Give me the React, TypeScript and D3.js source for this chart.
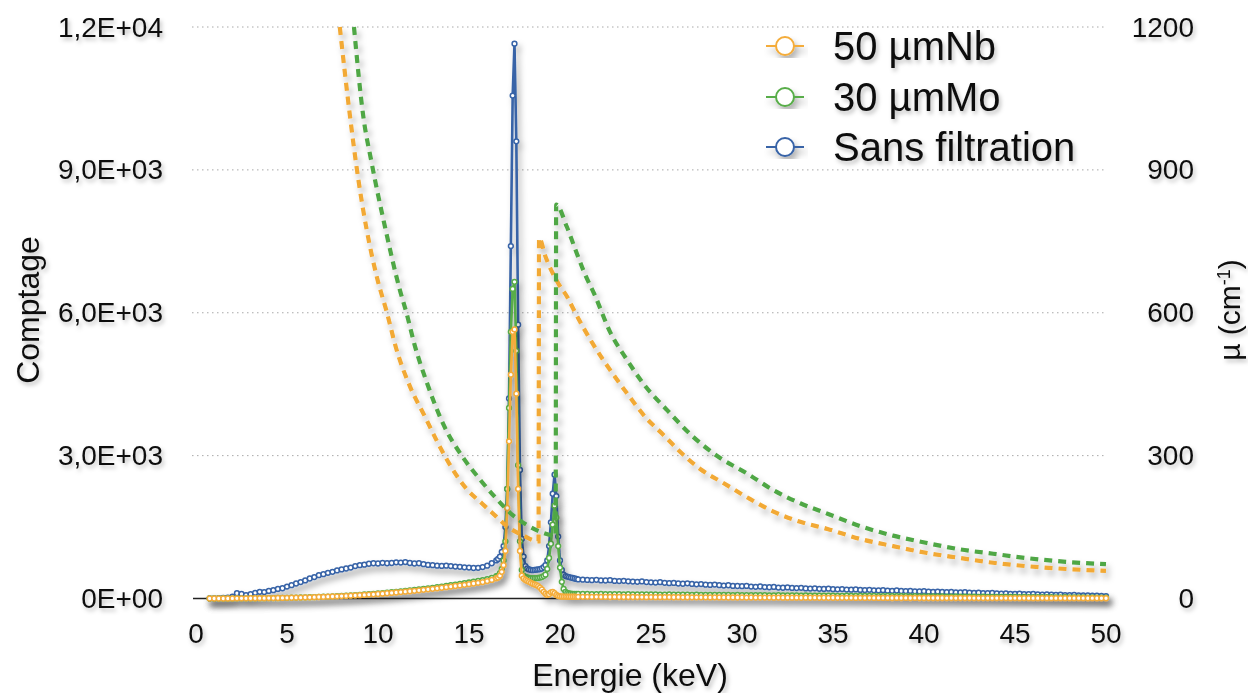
import React from "react";
import * as d3 from "d3";

// ---------- data ----------
const X_TICKS = [0, 5, 10, 15, 20, 25, 30, 35, 40, 45, 50];
const LEFT_TICKS = [0, 3000, 6000, 9000, 12000];
const LEFT_TICK_LABELS = ["0E+00", "3,0E+03", "6,0E+03", "9,0E+03", "1,2E+04"];
const RIGHT_TICKS = [0, 300, 600, 900, 1200];

// energy bins (keV): low region 0.75..16.5 step .25, peak region 16.6..20.9 step .1, tail 21..50 step .25
const LOW_START = 0.75, LOW_STEP = 0.25;
const PEAK_START = 16.6, PEAK_STEP = 0.1;
const TAIL_START = 21.0, TAIL_STEP = 0.25;

const BLUE_LOW = [0, 0, 5, 10, 20, 40, 110, 95, 70, 90,
  120, 140, 135, 160, 175, 200, 215, 250, 280, 315,
  345, 380, 420, 450, 490, 510, 540, 560, 590, 610,
  630, 650, 680, 700, 710, 730, 740, 735, 750, 740,
  745, 760, 755, 765, 745, 735, 740, 720, 705, 700,
  690, 685, 690, 680, 670, 665, 655, 650, 640, 645,
  660, 690, 740, 800];
const BLUE_PEAK = [830, 880, 980, 1100, 1500, 2300, 4200, 7400, 10560, 11650,
  9600, 5750, 2700, 1250, 880, 680, 630, 610, 600, 595,
  600, 605, 610, 615, 630, 660, 700, 800, 1100, 1600,
  2200, 2600, 2150, 1300, 800, 600, 500, 470, 460, 450,
  440, 430, 420, 410];
const BLUE_TAIL = [400, 395, 390, 385, 392, 380, 378, 384, 370, 365,
  372, 360, 355, 350, 358, 345, 340, 335, 342, 330,
  322, 328, 315, 310, 318, 305, 298, 302, 290, 285,
  292, 280, 272, 278, 265, 262, 258, 265, 250, 246,
  252, 240, 236, 242, 230, 226, 232, 222, 218, 224,
  212, 208, 214, 204, 200, 206, 196, 192, 198, 188,
  185, 190, 180, 177, 182, 172, 170, 175, 165, 162,
  168, 158, 155, 160, 150, 148, 153, 143, 140, 146,
  136, 133, 138, 128, 126, 131, 121, 118, 123, 114,
  111, 116, 106, 104, 108, 99, 97, 101, 92, 90,
  94, 86, 83, 87, 79, 77, 80, 72, 70, 73,
  66, 64, 67, 60, 58, 55, 50];

const GREEN_LOW = [0, 0, 0, 0, 0, 2, 3, 3, 4, 5,
  5, 6, 7, 8, 9, 11, 13, 15, 17, 19,
  22, 24, 27, 30, 34, 37, 41, 46, 50, 55,
  61, 66, 72, 78, 84, 91, 98, 106, 114, 122,
  131, 140, 149, 159, 169, 180, 191, 202, 213, 225,
  238, 251, 264, 278, 292, 306, 321, 336, 352, 368,
  385, 408, 435, 470];
const GREEN_PEAK = [480, 530, 620, 800, 1200, 2300, 4000, 5600, 6500, 6650,
  5200, 2800, 1200, 600, 480, 455, 445, 435, 428, 425,
  425, 428, 432, 440, 450, 470, 500, 620, 850, 1150,
  1550, 1950, 1700, 1100, 650, 350, 200, 140, 115, 105,
  100, 98, 97, 96];
const GREEN_TAIL = [95, 94, 96, 93, 92, 94, 91, 90, 92, 89,
  88, 90, 87, 86, 88, 85, 84, 86, 83, 82,
  84, 81, 80, 82, 79, 78, 80, 77, 76, 78,
  75, 74, 76, 73, 72, 74, 71, 70, 72, 69,
  68, 70, 67, 66, 68, 65, 64, 66, 63, 62,
  64, 61, 60, 62, 59, 58, 60, 57, 56, 58,
  55, 54, 56, 53, 52, 54, 51, 50, 52, 49,
  48, 50, 47, 46, 48, 45, 44, 46, 43, 42,
  44, 41, 40, 42, 39, 38, 40, 37, 36, 38,
  35, 34, 36, 33, 32, 34, 31, 30, 32, 29,
  28, 30, 27, 26, 28, 25, 24, 26, 23, 22,
  24, 21, 20, 22, 19, 18, 17];

const ORANGE_LOW = [0, 0, 0, 0, 0, 2, 3, 3, 4, 5,
  5, 6, 7, 8, 9, 10, 12, 14, 16, 18,
  20, 22, 25, 28, 31, 34, 38, 42, 46, 50,
  55, 60, 65, 70, 76, 82, 88, 95, 102, 110,
  118, 126, 134, 143, 152, 162, 172, 182, 192, 203,
  214, 226, 238, 250, 262, 275, 288, 300, 315, 330,
  345, 365, 390, 425];
const ORANGE_PEAK = [440, 480, 560, 700, 1000, 1900, 3300, 4700, 5600, 5650,
  4300, 2300, 1000, 480, 420, 390, 370, 350, 330, 310,
  295, 280, 260, 230, 190, 140, 100, 75, 90, 130,
  140, 110, 75, 55, 45, 42, 40, 40, 39, 38,
  38, 37, 37, 36];
const ORANGE_TAIL = [36, 35, 36, 34, 35, 33, 34, 32, 33, 31,
  32, 30, 31, 29, 30, 28, 29, 27, 28, 27,
  28, 26, 27, 25, 26, 24, 25, 24, 25, 23,
  24, 22, 23, 21, 22, 21, 22, 20, 21, 19,
  20, 19, 20, 18, 19, 17, 18, 17, 18, 16,
  17, 16, 17, 15, 16, 15, 16, 14, 15, 14,
  15, 13, 14, 13, 14, 12, 13, 12, 13, 11,
  12, 11, 12, 11, 12, 10, 11, 10, 11, 10,
  11, 9, 10, 9, 10, 9, 10, 8, 9, 8,
  9, 8, 9, 8, 8, 7, 8, 7, 8, 7,
  7, 7, 8, 6, 7, 6, 7, 6, 7, 6,
  6, 6, 5, 6, 5, 5, 5];

// attenuation coefficient mu (cm-1), right axis
const MU_NB_E = [7.9, 8.46, 8.92, 9.38, 9.93, 10.5, 11.0, 11.76, 12.58, 13.3, 14.04, 14.87, 15.7, 16.5, 17.07, 17.99, 18.82,
  18.85, 19.2, 19.9, 20.4, 20.8, 21.8, 22.75, 23.66, 24.76, 25.7, 26.6, 27.7, 29.0, 30.3, 31.7, 33.2, 34.7, 36.5, 38.3, 40.1, 42.0, 43.8, 45.6, 47.8, 50.0];
const MU_NB = [1200, 1013, 880, 774, 676, 599, 525, 445, 382, 326, 275, 230, 200, 172, 152, 132, 120,
  757, 718, 662, 633, 603, 535, 480, 432, 378, 343, 308, 272, 242, 212, 183, 161, 146, 125, 110, 96, 85, 75, 68, 62, 58];
const MU_MO_E = [8.68, 9.19, 9.65, 10.38, 11.2, 11.57, 12.03, 12.67, 13.6, 14.6, 15.6, 16.5, 17.4, 18.15, 18.8, 19.76,
  19.79, 20.37, 20.92, 21.35, 21.9, 22.75, 23.7, 24.6, 25.9, 27.3, 28.8, 30.3, 31.7, 33.2, 34.7, 36.5, 38.3, 40.1, 42.0, 43.8, 45.6, 47.8, 50.0];
const MU_MO = [1200, 1013, 915, 781, 648, 599, 530, 455, 365, 300, 250, 210, 175, 155, 142, 132,
  827, 781, 725, 683, 638, 560, 500, 450, 395, 340, 295, 262, 228, 200, 178, 152, 132, 117, 103, 94, 85, 77, 72];

const SERIES_NAMES = ["50 µmNb", "30 µmMo", "Sans filtration"];
const COLORS = { nb: "#F4AC3A", mo: "#58AD48", none: "#3763A7" };
const DASH_COLORS = { nb: "#F2A934", mo: "#4FA745" };

const FONT = "'Liberation Sans', Arial, Helvetica, sans-serif";

function build(low: number[], peak: number[], tail: number[]) {
  const pts: [number, number][] = [];
  low.forEach((v, i) => pts.push([LOW_START + LOW_STEP * i, v]));
  peak.forEach((v, i) => pts.push([PEAK_START + PEAK_STEP * i, v]));
  tail.forEach((v, i) => pts.push([TAIL_START + TAIL_STEP * i, v]));
  return pts;
}

export default function App() {
  const x = d3.scaleLinear().domain([0, 50]).range([196, 1106]);
  const yL = d3.scaleLinear().domain([0, 12000]).range([598.5, 27]);
  const yR = d3.scaleLinear().domain([0, 1200]).range([598.5, 27]);

  const solid = [
    { key: "none", data: build(BLUE_LOW, BLUE_PEAK, BLUE_TAIL), color: COLORS.none },
    { key: "mo", data: build(GREEN_LOW, GREEN_PEAK, GREEN_TAIL), color: COLORS.mo },
    { key: "nb", data: build(ORANGE_LOW, ORANGE_PEAK, ORANGE_TAIL), color: COLORS.nb },
  ];
  const lineL = d3.line<[number, number]>().x((d) => x(d[0])).y((d) => yL(d[1]));
  const lineR = d3.line<[number, number]>().x((d) => x(d[0])).y((d) => yR(d[1])).curve(d3.curveMonotoneX);

  const muNb: [number, number][] = MU_NB_E.map((e, i) => [e, MU_NB[i]]);
  const muMo: [number, number][] = MU_MO_E.map((e, i) => [e, MU_MO[i]]);

  const legendColors = [COLORS.nb, COLORS.mo, COLORS.none];
  const legendY = [46, 97, 147];

  return (
    <svg width={1248} height={693} style={{ position: "absolute", left: 0, top: 0, background: "#fff" }} fontFamily={FONT}>
      <defs>
        <filter id="sh" x="-5%" y="-5%" width="115%" height="120%">
          <feDropShadow dx="3" dy="5" stdDeviation="3" floodColor="#000" floodOpacity="0.3" />
        </filter>
        <filter id="tsh" x="-10%" y="-20%" width="130%" height="160%">
          <feDropShadow dx="2" dy="3" stdDeviation="2" floodColor="#000" floodOpacity="0.25" />
        </filter>
      </defs>

      {/* gridlines */}
      {LEFT_TICKS.slice(1).map((t) => (
        <line key={t} x1={192} x2={1104} y1={yL(t)} y2={yL(t)} stroke="#a8a8a8" strokeWidth={1} strokeDasharray="1.5,3.5" />
      ))}
      {/* x axis line */}
      <line x1={193} x2={1106} y1={yL(0)} y2={yL(0)} stroke="#222" strokeWidth={1.4} />

      {/* tick labels */}
      <g filter="url(#tsh)" fontSize={28} fill="#111">
        {LEFT_TICKS.map((t, i) => (
          <text key={t} x={163} y={yL(t)} textAnchor="end" dominantBaseline="central">{LEFT_TICK_LABELS[i]}</text>
        ))}
        {RIGHT_TICKS.map((t) => (
          <text key={t} x={1194} y={yR(t)} textAnchor="end" dominantBaseline="central">{t}</text>
        ))}
        {X_TICKS.map((t) => (
          <text key={t} x={x(t)} y={643} textAnchor="middle">{t}</text>
        ))}
      </g>
      {/* axis titles */}
      <g filter="url(#tsh)" fontSize={32} fill="#111">
        <text x={630} y={686} textAnchor="middle">Energie (keV)</text>
        <text transform="translate(39,310) rotate(-90)" textAnchor="middle">Comptage</text>
        <text transform="translate(1240,310) rotate(-90)" textAnchor="middle" fontSize={30}>
          µ (cm<tspan dy={-10} fontSize={18}>-1</tspan><tspan dy={10}>)</tspan>
        </text>
      </g>

      {/* solid count series */}
      {solid.map((s) => (
        <g key={s.key} filter="url(#sh)">
          <path d={lineL(s.data) || ""} fill="none" stroke={s.color} strokeWidth={2.6} strokeLinejoin="round" />
          {s.data.map((d, i) => (
            <circle key={i} cx={x(d[0])} cy={yL(d[1])} r={2.4} fill="#fff" stroke={s.color} strokeWidth={1.5} />
          ))}
        </g>
      ))}

      {/* dashed mu curves */}
      <g filter="url(#sh)">
        <path d={lineR(muNb) || ""} fill="none" stroke={DASH_COLORS.nb} strokeWidth={4.2} strokeDasharray="8,6" />
        <path d={lineR(muMo) || ""} fill="none" stroke={DASH_COLORS.mo} strokeWidth={4.2} strokeDasharray="8,6" />
      </g>

      {/* legend */}
      {SERIES_NAMES.map((n, i) => (
        <g key={n}>
          <g filter="url(#sh)">
            <line x1={766} x2={804} y1={legendY[i]} y2={legendY[i]} stroke={legendColors[i]} strokeWidth={2.2} />
            <circle cx={785} cy={legendY[i]} r={9} fill="#fff" stroke={legendColors[i]} strokeWidth={2} />
          </g>
          <text x={833} y={legendY[i]} dominantBaseline="central" fontSize={40} fill="#111" filter="url(#tsh)">{n}</text>
        </g>
      ))}
    </svg>
  );
}
